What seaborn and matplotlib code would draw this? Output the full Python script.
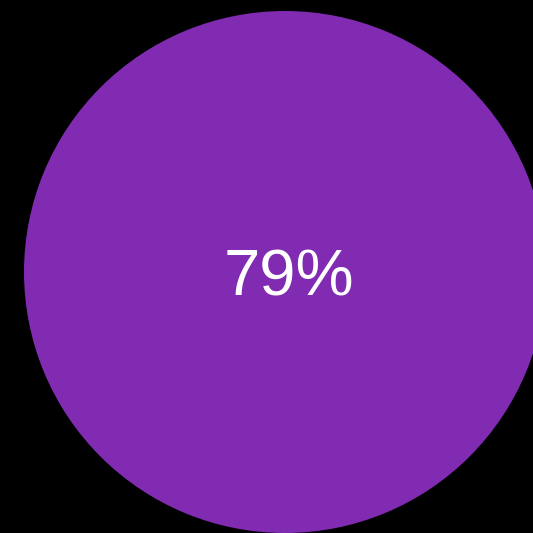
import matplotlib
matplotlib.use("Agg")
import matplotlib.pyplot as plt
import seaborn as sns

# Single value shown as a filled disc with a percentage label
value = [79]
label = ["79%"]
disc_color = "#812bb3"

sns.set_style("dark", {"axes.facecolor": "black", "figure.facecolor": "black"})
plt.rcParams['font.family'] = ['Liberation Sans', 'DejaVu Sans']

fig = plt.figure(figsize=(5.33, 5.33), dpi=100)
ax = fig.add_axes([0, 0, 1, 1])
ax.set_xlim(0, 533)
ax.set_ylim(533, 0)
ax.set_aspect("equal")

# full disc (the whole pie is one wedge)
ax.pie([100], colors=[disc_color], center=(285, 272), radius=261,
       startangle=90, frame=True, wedgeprops={"linewidth": 0})
ax.set_xlim(0, 533)
ax.set_ylim(533, 0)
ax.axis("off")

ax.text(288.5, 278, label[0], color="white", fontsize=47,
        ha="center", va="center")

fig.savefig("out.png", dpi=100, facecolor="black")
